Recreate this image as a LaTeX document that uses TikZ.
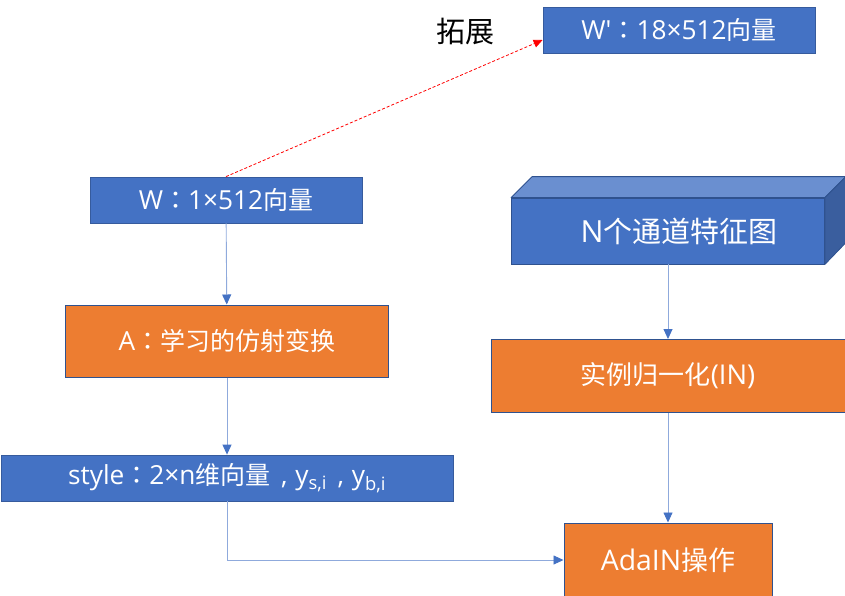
\documentclass[tikz,border=0pt]{standalone}
\usepackage{fontspec}
\setmainfont{Open Sans}[Scale=1.05]
\newfontfamily\cjk{Noto Sans CJK SC}
\newfontfamily\cjkp{Noto Sans CJK TC}
\usepackage{tikz}
\usetikzlibrary{shapes,arrows.meta,positioning}
\definecolor{boxblue}{HTML}{4472C4}
\definecolor{boxorange}{HTML}{ED7D31}
\definecolor{edgeblue}{HTML}{2F528F}
\definecolor{topblue}{HTML}{6A8FD0}
\definecolor{sideblue}{HTML}{3A5E9E}
\definecolor{lineblue}{HTML}{8FAADC}
\tikzstyle{vecbox} = [rectangle, fill=boxblue, draw=boxblue!80!black, line width=0.8pt, text=white, text centered, inner sep=0pt, font=\fontsize{25}{30}\selectfont]
\tikzstyle{opbox} = [rectangle, fill=boxorange, draw=edgeblue, line width=1pt, text=white, text centered, inner sep=0pt, font=\fontsize{25}{30}\selectfont]
\tikzstyle{arrow} = [draw=lineblue, line width=0.9pt, -{Triangle[length=10pt,width=9pt,color=boxblue]}]
\tikzstyle{extarrow} = [red, line width=0.8pt, dash pattern=on 3pt off 2pt, -{Triangle[length=9pt,width=8pt]}]
\newcommand{\colonw}{{\cjkp ：}}
\newcommand{\commaw}{\hspace{0.4em},\hspace{0.3em}}

\begin{document}
\begin{tikzpicture}[x=1pt, y=-1pt] % one unit = one pixel of the sketch

\useasboundingbox (0,0) rectangle (845,595);
\clip (0,0) rectangle (845,595);

% Place the nodes
\node(w_ext)   [vecbox, minimum width=272pt, minimum height=46pt] at (679,30)  {W\textquotesingle\colonw 18×512{\cjk 向量}};
\node(ext_lbl) [font=\fontsize{29}{34}\selectfont\cjk]         at (465,31)  {拓展};
\node(w_vec)   [vecbox, minimum width=272pt, minimum height=46pt] at (226,200) {W\colonw 1×512{\cjk 向量}};
\node(affine)  [opbox,  minimum width=323pt, minimum height=72pt] at (227,341) {A\colonw{\cjk 学习的仿射变换}};
\node(style)   [vecbox, minimum width=452pt, minimum height=46pt] at (227,478) {style\colonw 2×n{\cjk 维向量}\commaw y\textsubscript{s,i}\commaw y\textsubscript{b,i}};
\node(featmap) [vecbox, draw=edgeblue, minimum width=313pt, minimum height=66pt, font=\fontsize{29}{34}\selectfont] at (668,231) {\hspace*{22pt}N{\cjk 个通道特征图}};
\node(inorm)   [opbox,  minimum width=354pt, minimum height=73pt, font=\fontsize{26}{31}\selectfont] at (668,376) {{\cjk 实例归一化}(IN)};
\node(adain)   [opbox,  minimum width=208pt, minimum height=74pt, font=\fontsize{27}{32}\selectfont] at (668,560) {AdaIN{\cjk 操作}};

% Faces of the feature map block
\filldraw [fill=topblue, draw=edgeblue, line width=0.8pt, line join=round]
  (featmap.north west) -- ++(21,-21) -- ([xshift=21pt,yshift=21pt]featmap.north east) -- (featmap.north east) -- cycle;
\filldraw [fill=sideblue, draw=edgeblue, line width=0.8pt, line join=round]
  (featmap.north east) -- ++(21,-21) -- ++(0,66) -- (featmap.south east) -- cycle;

% Connect the nodes with arrows
\draw [extarrow] (w_vec.north) -- ([yshift=-10pt]w_ext.west);
\draw [arrow] (w_vec)   -- (affine);
\draw [arrow] (affine)  -- (style);
\draw [arrow] (featmap) -- (inorm);
\draw [arrow] (inorm)   -- (adain);
\draw [arrow] (style.south) |- (adain.west);

\end{tikzpicture}
\end{document}
